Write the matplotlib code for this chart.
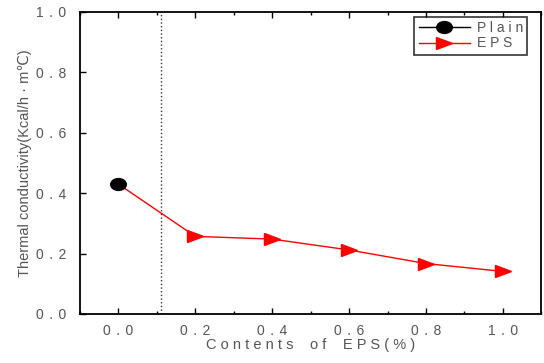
import matplotlib
matplotlib.use('Agg')
import matplotlib.pyplot as plt
from matplotlib.ticker import MultipleLocator
from matplotlib.markers import MarkerStyle
from matplotlib.transforms import Affine2D

plt.rcParams['font.family'] = ['Liberation Sans', 'DejaVu Sans', 'Noto Sans CJK KR']

# data
plain_x = [0.0]
plain_y = [0.43]
eps_x = [0.0, 0.2, 0.4, 0.6, 0.8, 1.0]
eps_y = [0.43, 0.257, 0.248, 0.212, 0.167, 0.141]
xticks = [0.0, 0.2, 0.4, 0.6, 0.8, 1.0]
yticks = [0.0, 0.2, 0.4, 0.6, 0.8, 1.0]
divider_x = 0.112


def spaced(s, gap='\u2009\u2009'):
    # the original uses wide letter spacing
    return gap.join(s)


gray = '#555555'
fig = plt.figure(figsize=(5.44, 3.63), dpi=100)
ax = fig.add_axes([0.147, 0.135, 0.848, 0.832])

tri = MarkerStyle('>', transform=Affine2D().scale(1.0, 0.72))
dot = MarkerStyle('o', transform=Affine2D().scale(1.25, 0.95))

ax.plot(eps_x, eps_y, color='red', lw=1.0, marker=tri, ms=12,
        markevery=list(range(1, len(eps_x))), label=spaced('EPS', ' '), zorder=3)
ax.plot(plain_x, plain_y, color='black', lw=1.0, marker=dot, ms=9,
        label=spaced('Plain', ' '), zorder=4)
ax.axvline(divider_x, color='#333333', lw=1.0, ls=':', zorder=1)

ax.set_xlim(-0.1, 1.1)
ax.set_ylim(0, 1.0)
ax.set_xticks(xticks)
ax.set_yticks(yticks)
ax.set_xticklabels([spaced(f'{v:.1f}') for v in xticks], color=gray, fontsize=10)
ax.set_yticklabels([spaced(f'{v:.1f}') for v in yticks], color=gray, fontsize=10)
ax.xaxis.set_minor_locator(MultipleLocator(0.1))
ax.tick_params(which='both', direction='in', top=True, right=False, length=4, width=1)
ax.tick_params(which='minor', length=2)
ax.tick_params(axis='x', pad=7)
ax.tick_params(axis='y', pad=10)
for sp in ax.spines.values():
    sp.set_linewidth(1.3)

ax.set_xlabel(' '.join('Contents of EPS(%)').replace('   ', '    '),
              color=gray, fontsize=10.5, labelpad=0)
ax.set_ylabel('Thermal conductivity(Kcal/h · m℃)', color=gray, fontsize=10.5, labelpad=3)

handles, labels = ax.get_legend_handles_labels()
leg = ax.legend(handles[::-1], labels[::-1], loc='upper right',
                bbox_to_anchor=(0.9696, 0.984), borderaxespad=0, fontsize=10,
                frameon=True, fancybox=False, borderpad=0.3, handlelength=3.7,
                labelspacing=0.1, handletextpad=0.5, labelcolor=gray)
leg.get_frame().set_edgecolor('black')
leg.get_frame().set_linewidth(1.2)

fig.savefig('out.png', dpi=100)
